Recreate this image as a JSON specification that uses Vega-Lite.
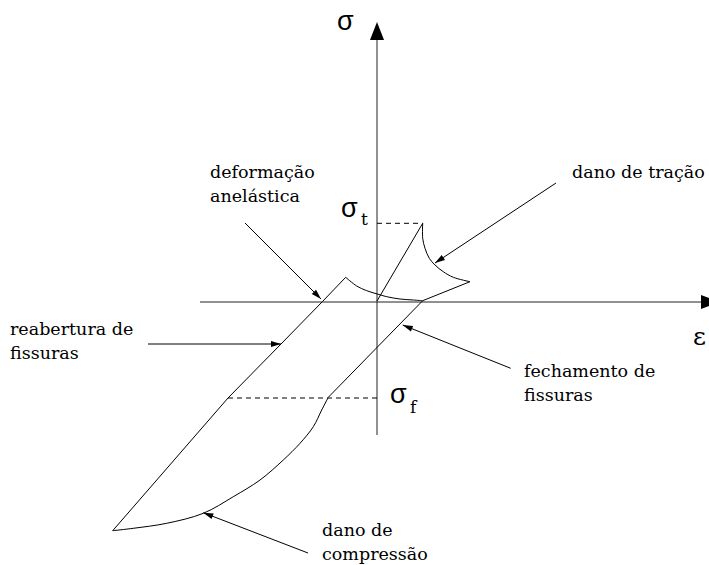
{
  "$schema": "https://vega.github.io/schema/vega-lite/v6.json",
  "width": 709,
  "height": 565,
  "autosize": "none",
  "padding": 0,
  "background": "white",
  "config": {"view": {"stroke": null}},
  "datasets": {
    "axes": [
      {"id": "eps", "ord": 1, "e": -177, "s": 0},
      {"id": "eps", "ord": 2, "e": 326, "s": 0},
      {"id": "sig", "ord": 1, "e": 0, "s": -133},
      {"id": "sig", "ord": 2, "e": 0, "s": 264}
    ],
    "axisHeads": [
      {"e": 342, "s": 0, "dir": 90},
      {"e": 0, "s": 280, "dir": 0}
    ],
    "lines": [
      {"id": "load", "ord": 1, "e": 0, "s": 1},
      {"id": "load", "ord": 2, "e": 45.7, "s": 78.7},
      {"id": "close", "ord": 1, "e": 93, "s": 20.3},
      {"id": "close", "ord": 2, "e": 45.7, "s": 1.3},
      {"id": "close", "ord": 3, "e": -48.7, "s": -95.3},
      {"id": "reopen", "ord": 1, "e": -264.3, "s": -228.7},
      {"id": "reopen", "ord": 2, "e": -149, "s": -96},
      {"id": "reopen", "ord": 3, "e": -96, "s": -42},
      {"id": "reopen", "ord": 4, "e": -54.5, "s": 0.5},
      {"id": "reopen", "ord": 5, "e": -31.3, "s": 24.7}
    ],
    "curves": [
      {"id": "tension", "ord": 1, "e": 45.7, "s": 78.7},
      {"id": "tension", "ord": 2, "e": 45.7, "s": 63.7},
      {"id": "tension", "ord": 3, "e": 48, "s": 53.7},
      {"id": "tension", "ord": 4, "e": 52.3, "s": 43.7},
      {"id": "tension", "ord": 5, "e": 58, "s": 37},
      {"id": "tension", "ord": 6, "e": 66.3, "s": 30.3},
      {"id": "tension", "ord": 7, "e": 76.3, "s": 24.7},
      {"id": "tension", "ord": 8, "e": 93, "s": 20.3},
      {"id": "compression", "ord": 1, "e": -48.7, "s": -95.3},
      {"id": "compression", "ord": 2, "e": -55.3, "s": -108},
      {"id": "compression", "ord": 3, "e": -63.7, "s": -124.7},
      {"id": "compression", "ord": 4, "e": -77, "s": -141.3},
      {"id": "compression", "ord": 5, "e": -93.7, "s": -158},
      {"id": "compression", "ord": 6, "e": -117, "s": -178},
      {"id": "compression", "ord": 7, "e": -143.7, "s": -194.7},
      {"id": "compression", "ord": 8, "e": -173.7, "s": -211.3},
      {"id": "compression", "ord": 9, "e": -210.3, "s": -221.3},
      {"id": "compression", "ord": 10, "e": -243.7, "s": -226.3},
      {"id": "compression", "ord": 11, "e": -264.3, "s": -228.7},
      {"id": "unload", "ord": 1, "e": -31.3, "s": 24.7},
      {"id": "unload", "ord": 2, "e": -20.3, "s": 16},
      {"id": "unload", "ord": 3, "e": -10.3, "s": 11.3},
      {"id": "unload", "ord": 4, "e": 0.3, "s": 8},
      {"id": "unload", "ord": 5, "e": 9.7, "s": 5.3},
      {"id": "unload", "ord": 6, "e": 23, "s": 3},
      {"id": "unload", "ord": 7, "e": 36.3, "s": 2},
      {"id": "unload", "ord": 8, "e": 45.7, "s": 1.3}
    ],
    "dashed": [
      {"id": "st", "ord": 1, "e": 0, "s": 78.7},
      {"id": "st", "ord": 2, "e": 45.7, "s": 78.7},
      {"id": "sf", "ord": 1, "e": -149, "s": -96},
      {"id": "sf", "ord": 2, "e": 0, "s": -96}
    ],
    "arrows": [
      {"name": "deformação anelástica", "e": -132, "s": 79, "e2": -56, "s2": 3, "dir": 135},
      {"name": "dano de tração", "e": 179, "s": 119, "e2": 58, "s2": 39, "dir": 236.5},
      {"name": "reabertura de fissuras", "e": -229, "s": -42, "e2": -96, "s2": -42, "dir": 90},
      {"name": "fechamento de fissuras", "e": 133.7, "s": -66.3, "e2": 25.7, "s2": -23, "dir": 291.9},
      {"name": "dano de compressão", "e": -69, "s": -251, "e2": -173.7, "s2": -210.7, "dir": 291.1}
    ],
    "labels": [
      {"text": ["deformação", "anelástica"], "e": -167, "s": 124},
      {"text": ["dano de tração"], "e": 195, "s": 124},
      {"text": ["reabertura de", "fissuras"], "e": -367, "s": -33},
      {"text": ["fechamento de", "fissuras"], "e": 147, "s": -75},
      {"text": ["dano de", "compressão"], "e": -55, "s": -234}
    ],
    "symbols": [
      {"text": "σ", "e": -40, "s": 272},
      {"text": "σ", "e": -36, "s": 85},
      {"text": "σ", "e": 13, "s": -101}
    ],
    "subs": [
      {"text": "t", "e": -16, "s": 77},
      {"text": "f", "e": 33, "s": -111}
    ],
    "epsLabel": [
      {"text": "ε", "e": 316, "s": -43}
    ]
  },
  "layer": [
    {
      "data": {"name": "axes"},
      "mark": {"type": "line", "color": "#222222", "strokeWidth": 1},
      "encoding": {
        "x": {"field": "e", "type": "quantitative", "scale": {"domain": [-377, 332], "nice": false, "zero": false}, "axis": null},
        "y": {"field": "s", "type": "quantitative", "scale": {"domain": [-263, 302], "nice": false, "zero": false}, "axis": null},
        "detail": {"field": "id"},
        "order": {"field": "ord"}
      }
    },
    {
      "data": {"name": "lines"},
      "mark": {"type": "line", "color": "black", "strokeWidth": 1},
      "encoding": {
        "x": {"field": "e", "type": "quantitative"},
        "y": {"field": "s", "type": "quantitative"},
        "detail": {"field": "id"},
        "order": {"field": "ord"}
      }
    },
    {
      "data": {"name": "curves"},
      "mark": {"type": "line", "color": "black", "strokeWidth": 1, "interpolate": "catmull-rom"},
      "encoding": {
        "x": {"field": "e", "type": "quantitative"},
        "y": {"field": "s", "type": "quantitative"},
        "detail": {"field": "id"},
        "order": {"field": "ord"}
      }
    },
    {
      "data": {"name": "dashed"},
      "mark": {"type": "line", "color": "black", "strokeWidth": 1, "strokeDash": [5, 4]},
      "encoding": {
        "x": {"field": "e", "type": "quantitative"},
        "y": {"field": "s", "type": "quantitative"},
        "detail": {"field": "id"},
        "order": {"field": "ord"}
      }
    },
    {
      "data": {"name": "arrows"},
      "mark": {"type": "rule", "color": "black", "strokeWidth": 1},
      "encoding": {
        "x": {"field": "e", "type": "quantitative"},
        "y": {"field": "s", "type": "quantitative"},
        "x2": {"field": "e2"},
        "y2": {"field": "s2"}
      }
    },
    {
      "data": {"name": "arrows"},
      "mark": {"type": "point", "shape": "M0,0L-0.6,2L0.6,2Z", "size": 100, "filled": true, "color": "black", "opacity": 1, "strokeWidth": 0},
      "encoding": {
        "x": {"field": "e2", "type": "quantitative"},
        "y": {"field": "s2", "type": "quantitative"},
        "angle": {"field": "dir", "type": "quantitative", "scale": null}
      }
    },
    {
      "data": {"name": "axisHeads"},
      "mark": {"type": "point", "shape": "M0,0L-0.78,2L0.78,2Z", "size": 324, "filled": true, "color": "black", "opacity": 1, "strokeWidth": 0},
      "encoding": {
        "x": {"field": "e", "type": "quantitative"},
        "y": {"field": "s", "type": "quantitative"},
        "angle": {"field": "dir", "type": "quantitative", "scale": null}
      }
    },
    {
      "data": {"name": "labels"},
      "mark": {"type": "text", "font": "DejaVu Serif", "fontSize": 17.5, "lineHeight": 24, "align": "left", "baseline": "alphabetic", "color": "black"},
      "encoding": {
        "x": {"field": "e", "type": "quantitative"},
        "y": {"field": "s", "type": "quantitative"},
        "text": {"field": "text"}
      }
    },
    {
      "data": {"name": "symbols"},
      "mark": {"type": "text", "font": "Liberation Sans", "fontSize": 27, "align": "left", "baseline": "alphabetic", "color": "black"},
      "encoding": {
        "x": {"field": "e", "type": "quantitative"},
        "y": {"field": "s", "type": "quantitative"},
        "text": {"field": "text"}
      }
    },
    {
      "data": {"name": "subs"},
      "mark": {"type": "text", "font": "DejaVu Serif", "fontSize": 17, "align": "left", "baseline": "alphabetic", "color": "black"},
      "encoding": {
        "x": {"field": "e", "type": "quantitative"},
        "y": {"field": "s", "type": "quantitative"},
        "text": {"field": "text"}
      }
    },
    {
      "data": {"name": "epsLabel"},
      "mark": {"type": "text", "font": "DejaVu Serif", "fontSize": 25, "align": "left", "baseline": "alphabetic", "color": "black"},
      "encoding": {
        "x": {"field": "e", "type": "quantitative"},
        "y": {"field": "s", "type": "quantitative"},
        "text": {"field": "text"}
      }
    }
  ]
}
